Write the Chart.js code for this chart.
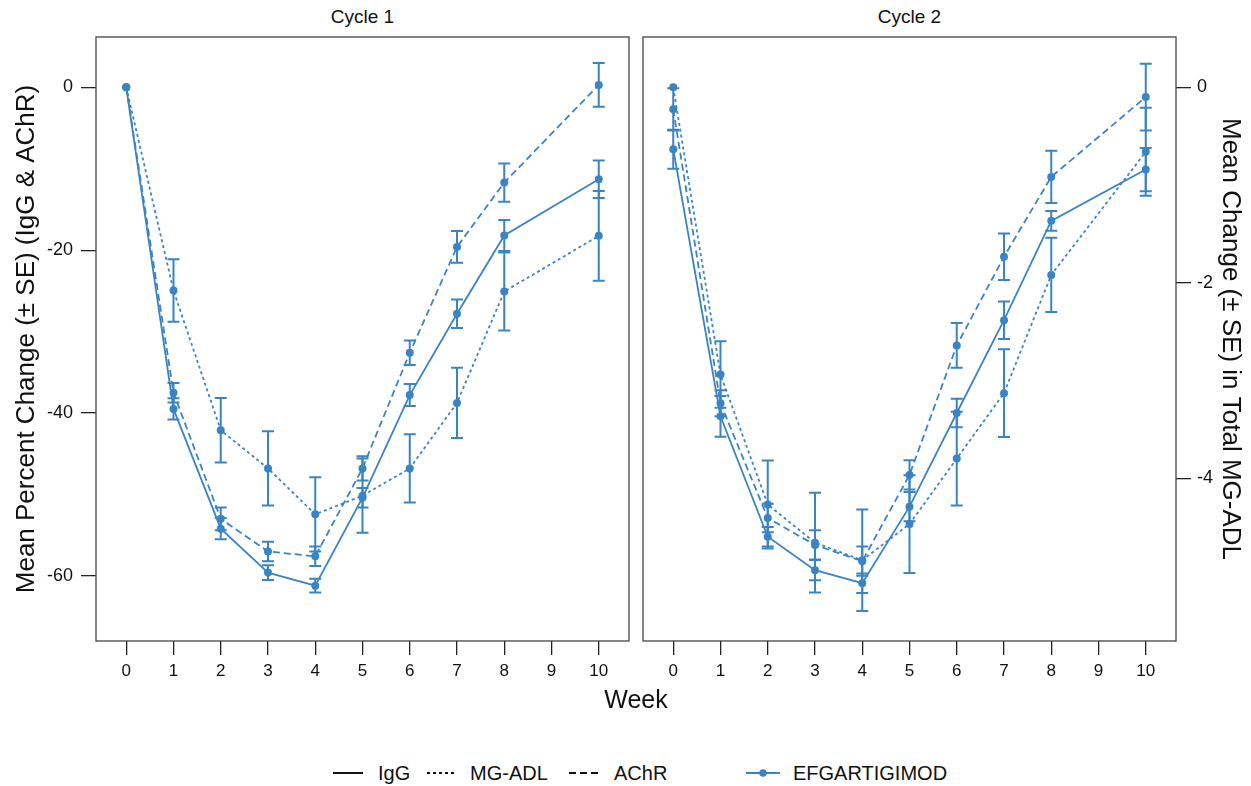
<!DOCTYPE html>
<html>
<head>
<meta charset="utf-8">
<script src="https://cdn.jsdelivr.net/npm/chart.js@4.4.1/dist/chart.umd.min.js"></script>
<style>
  body { margin: 0; background: #fff; font-family: Arial, "Liberation Sans", sans-serif; color: #111; }
  #wrap { position: relative; width: 1251px; height: 786px; overflow: hidden; }
  canvas { position: absolute; top: 0; }
  .txt { position: absolute; text-align: center; white-space: nowrap; }
  .leg { position: absolute; top: 761px; height: 24px; font-size: 20px; line-height: 24px; white-space: nowrap; }
  .leg svg { position: absolute; top: 0; }
  .leg span { position: absolute; white-space: nowrap; }
</style>
</head>
<body>
<div id="wrap">
  <div class="txt" style="left:96px;width:533px;top:6px;font-size:19px;">Cycle 1</div>
  <div class="txt" style="left:643px;width:533px;top:6px;font-size:19px;">Cycle 2</div>
  <canvas id="c1" width="636" height="690" style="left:0;"></canvas>
  <canvas id="c2" width="615" height="690" style="left:636px;"></canvas>
  <div class="txt" style="left:536px;width:200px;top:685px;font-size:25px;">Week</div>

  <div class="leg" style="left:332px;">
    <svg width="32" height="24"><line x1="1" y1="12" x2="31" y2="12" stroke="#111" stroke-width="2"/></svg>
    <span style="left:46px;">IgG</span>
  </div>
  <div class="leg" style="left:426px;">
    <svg width="32" height="24"><line x1="1" y1="12" x2="31" y2="12" stroke="#111" stroke-width="2" stroke-dasharray="3,3"/></svg>
    <span style="left:44px;">MG-ADL</span>
  </div>
  <div class="leg" style="left:568px;">
    <svg width="34" height="24"><line x1="1" y1="12" x2="33" y2="12" stroke="#111" stroke-width="2" stroke-dasharray="7,4"/></svg>
    <span style="left:46px;">AChR</span>
  </div>
  <div class="leg" style="left:745px;">
    <svg width="36" height="24"><line x1="1" y1="12" x2="35" y2="12" stroke="#3A84C4" stroke-width="2"/><circle cx="18" cy="12" r="3.8" fill="#3A84C4"/></svg>
    <span style="left:48px;">EFGARTIGIMOD</span>
  </div>
</div>

<script>
// weeks with observations (no week 9 visit)
const WEEKS = [0, 1, 2, 3, 4, 5, 6, 7, 8, 10];
const WEEK_TICKS = [0, 1, 2, 3, 4, 5, 6, 7, 8, 9, 10];
const PCT_TICKS = [0, -20, -40, -60];
const ADL_TICKS = [0, -2, -4];

// Cycle 1 — mean percent change (IgG, AChR) and mean change in MG-ADL, with SE
const C1_IGG = [0, -39.5, -54.2, -59.6, -61.2, -50.4, -37.8, -27.8, -18.2, -11.3];
const C1_IGG_SE = [0, 1.3, 1.3, 0.9, 0.85, 1.2, 1.35, 1.75, 1.9, 2.3];
const C1_ACHR = [0, -37.5, -53.0, -57.0, -57.6, -46.8, -32.6, -19.6, -11.7, 0.3];
const C1_ACHR_SE = [0, 1.2, 1.4, 1.2, 1.2, 1.5, 1.5, 1.95, 2.35, 2.7];
const C1_ADL = [0, -2.08, -3.51, -3.90, -4.37, -4.18, -3.90, -3.23, -2.09, -1.52];
const C1_ADL_SE = [0, 0.32, 0.33, 0.38, 0.38, 0.38, 0.35, 0.36, 0.40, 0.46];

// Cycle 2
const C2_IGG = [-7.6, -40.4, -55.2, -59.3, -60.9, -51.5, -40.0, -28.6, -16.4, -10.1];
const C2_IGG_SE = [2.4, 2.5, 1.2, 1.25, 1.2, 1.8, 1.75, 2.3, 1.2, 2.65];
const C2_ACHR = [-2.7, -38.8, -52.9, -56.2, -58.2, -47.6, -31.7, -20.8, -11.0, -1.2];
const C2_ACHR_SE = [2.6, 1.6, 1.75, 1.8, 1.8, 1.8, 2.75, 2.85, 3.2, 4.1];
const C2_ADL = [0, -2.94, -4.27, -4.66, -4.84, -4.47, -3.80, -3.13, -1.92, -0.66];
const C2_ADL_SE = [0, 0.34, 0.45, 0.51, 0.52, 0.50, 0.48, 0.45, 0.38, 0.45];

const BLUE = '#3A84C4';
const INK = '#111';
const FONT = 'Arial, "Liberation Sans", sans-serif';

const PCT_MIN = -68, PCT_MAX = 6.18;
const ADL_PER_PCT = 12;

const pts = arr => arr.map((v, i) => ({ x: WEEKS[i], y: v }));
const setTicks = list => s => { s.ticks = list.map(v => ({ value: v })); };
const fixWidth = w => s => { if (s.options.display) s.width = w; };

// error bars drawn through the chart's own scales
const errorBars = {
  id: 'errorBars',
  afterDatasetsDraw(chart) {
    const ctx = chart.ctx;
    const xs = chart.scales.x;
    chart.data.datasets.forEach(ds => {
      const ys = chart.scales[ds.yAxisID];
      ctx.save();
      ctx.strokeStyle = ds.borderColor;
      ctx.lineWidth = 2;
      ds.data.forEach((p, j) => {
        const e = ds.errors[j];
        if (!e) return;
        const x = xs.getPixelForValue(p.x);
        const top = ys.getPixelForValue(p.y + e);
        const bot = ys.getPixelForValue(p.y - e);
        ctx.beginPath();
        ctx.moveTo(x, top); ctx.lineTo(x, bot);
        ctx.moveTo(x - 6, top); ctx.lineTo(x + 6, top);
        ctx.moveTo(x - 6, bot); ctx.lineTo(x + 6, bot);
        ctx.stroke();
      });
      ctx.restore();
    });
  }
};

const frame = {
  id: 'frame',
  afterDraw(chart) {
    const { ctx, chartArea: a } = chart;
    ctx.save();
    ctx.strokeStyle = '#444';
    ctx.lineWidth = 1.3;
    ctx.strokeRect(a.left, a.top, a.right - a.left, a.bottom - a.top);
    ctx.restore();
  }
};

function series(label, data, se, axis, dash) {
  return {
    label: label,
    data: pts(data),
    errors: se,
    yAxisID: axis,
    borderColor: BLUE,
    backgroundColor: BLUE,
    borderWidth: 1.8,
    borderDash: dash,
    pointRadius: 4,
    pointHoverRadius: 4,
    pointBorderWidth: 0,
    showLine: true,
    fill: false
  };
}

function panel(id, igg, iggSe, adl, adlSe, achr, achrSe, left) {
  const tickFont = { family: FONT, size: 17 };
  const yTickFont = { family: FONT, size: 18 };
  const titleFont = { family: FONT, size: 26 };
  new Chart(document.getElementById(id), {
    type: 'scatter',
    data: {
      datasets: [
        series('IgG', igg, iggSe, 'y', []),
        series('MG-ADL', adl, adlSe, 'y2', [3, 3]),
        series('AChR', achr, achrSe, 'y', [7, 4])
      ]
    },
    options: {
      responsive: false,
      animation: false,
      layout: { padding: left ? { left: 0, right: 7, top: 37, bottom: 0 } : { left: 7, right: 0, top: 37, bottom: 0 } },
      plugins: { legend: { display: false }, tooltip: { enabled: false } },
      scales: {
        x: {
          type: 'linear',
          min: -0.64,
          max: 10.64,
          afterBuildTicks: setTicks(WEEK_TICKS),
          afterFit: s => { s.height = 49; },
          ticks: { font: tickFont, color: INK, padding: 6, maxRotation: 0 },
          grid: { drawOnChartArea: false, tickLength: 14, color: '#222', lineWidth: 1.3 },
          border: { display: false }
        },
        y: {
          display: left,
          position: 'left',
          min: PCT_MIN,
          max: PCT_MAX,
          afterBuildTicks: setTicks(PCT_TICKS),
          afterFit: fixWidth(96),
          title: { display: true, text: 'Mean Percent Change (± SE) (IgG & AChR)', font: titleFont, color: INK, padding: { top: 11, bottom: 0 } },
          ticks: { font: yTickFont, color: INK, padding: 8 },
          grid: { drawOnChartArea: false, tickLength: 15, color: '#222', lineWidth: 1.3 },
          border: { display: false }
        },
        y2: {
          display: !left,
          position: 'right',
          min: PCT_MIN / ADL_PER_PCT,
          max: PCT_MAX / ADL_PER_PCT,
          afterBuildTicks: setTicks(ADL_TICKS),
          afterFit: fixWidth(75),
          title: { display: true, text: 'Mean Change (± SE) in Total MG-ADL', font: titleFont, color: INK, padding: { top: 5, bottom: 0 } },
          ticks: { font: yTickFont, color: INK, padding: 6 },
          grid: { drawOnChartArea: false, tickLength: 15, color: '#222', lineWidth: 1.3 },
          border: { display: false }
        }
      }
    },
    plugins: [errorBars, frame]
  });
}

panel('c1', C1_IGG, C1_IGG_SE, C1_ADL, C1_ADL_SE, C1_ACHR, C1_ACHR_SE, true);
panel('c2', C2_IGG, C2_IGG_SE, C2_ADL, C2_ADL_SE, C2_ACHR, C2_ACHR_SE, false);
</script>
</body>
</html>
